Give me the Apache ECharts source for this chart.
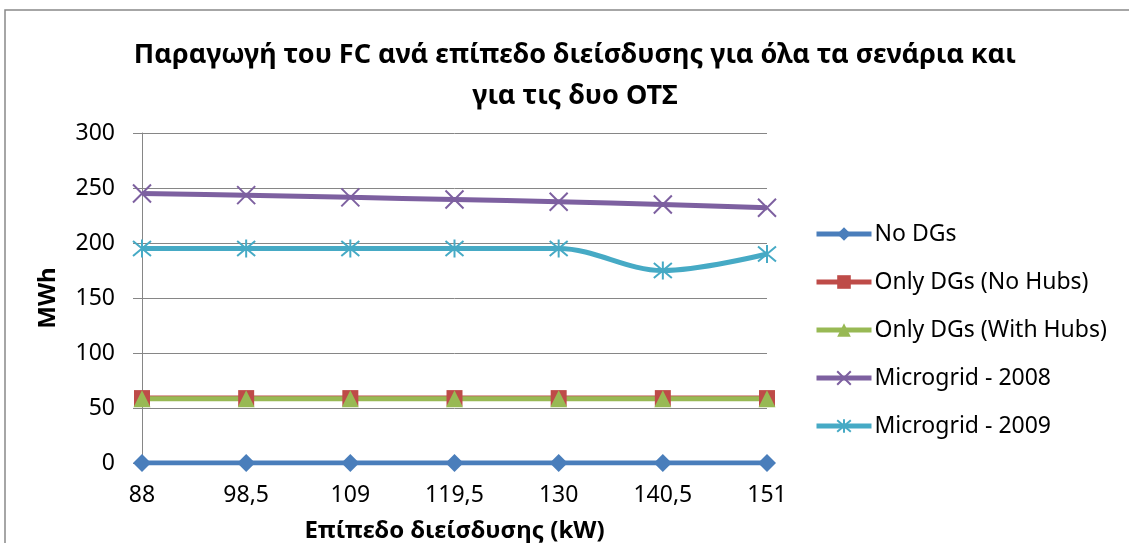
<!DOCTYPE html>
<html>
<head>
<meta charset="utf-8">
<script src="https://cdn.jsdelivr.net/npm/echarts@6/dist/echarts.min.js"></script>
<style>
html,body{margin:0;padding:0;background:#fff;}
#chart{width:1129px;height:543px;}
</style>
</head>
<body>
<div id="chart"></div>
<script>
const categories = ['88', '98,5', '109', '119,5', '130', '140,5', '151'];
const noDGs = [0, 0, 0, 0, 0, 0, 0];
const onlyDGsNoHubs = [59, 59, 59, 59, 59, 59, 59];
const onlyDGsWithHubs = [58.5, 58.5, 58.5, 58.5, 58.5, 58.5, 58.5];
const microgrid2008 = [245, 243.5, 241.5, 239.5, 237.5, 235, 232];
const microgrid2009 = [195, 195, 195, 195, 195, 175, 190];
const yTicks = [0, 50, 100, 150, 200, 250, 300];

const FONT = 'Noto Sans';
const chart = echarts.init(document.getElementById('chart'));
const xPath = 'path://M0,0L10,10M10,0L0,10';
const starPath = 'path://M0,0L10,10M10,0L0,10M5,-1L5,11';

function mk(name, data, color, symbol, size, strokeSym) {
  return {
    name: name,
    type: 'line',
    data: data,
    smooth: 0.35,
    symbol: symbol,
    symbolSize: size,
    showSymbol: true,
    lineStyle: {color: color, width: 5},
    itemStyle: strokeSym
      ? {color: color, borderColor: color, borderWidth: 2}
      : {color: color, borderWidth: 0},
    emphasis: {disabled: true},
    animation: false
  };
}

chart.setOption({
  backgroundColor: '#fff',
  animation: false,
  graphic: [{
    type: 'rect',
    shape: {x: 5, y: 10, width: 1200, height: 600},
    style: {fill: 'none', stroke: '#898989', lineWidth: 1.5},
    silent: true
  }],
  title: {
    text: 'Παραγωγή του FC ανά επίπεδο διείσδυσης για όλα τα σενάρια και\nγια τις δυο ΟΤΣ',
    left: 570,
    top: 30,
    textAlign: 'center',
    textStyle: {fontFamily: FONT, fontWeight: 'bold', fontSize: 27, lineHeight: 41, color: '#000'}
  },
  legend: {
    orient: 'vertical',
    left: 809,
    top: 217,
    itemWidth: 55,
    itemHeight: 17,
    itemGap: 24,
    lineStyle: {width: 5},
    textStyle: {fontFamily: FONT, fontSize: 23, lineHeight: 24, color: '#000', padding: [0, 0, 0, -2]},
    data: ['No DGs', 'Only DGs (No Hubs)', 'Only DGs (With Hubs)', 'Microgrid - 2008', 'Microgrid - 2009']
  },
  grid: {left: 142, right: 362, top: 133, bottom: 80, containLabel: false, outerBoundsMode: 'none'},
  xAxis: {
    type: 'category',
    data: categories,
    boundaryGap: false,
    name: 'Επίπεδο διείσδυσης (kW)',
    nameLocation: 'middle',
    nameGap: 56,
    nameTextStyle: {fontFamily: FONT, fontWeight: 'bold', fontSize: 24, color: '#000'},
    axisLine: {show: true, lineStyle: {color: '#868686', width: 1}},
    axisTick: {show: false},
    axisLabel: {fontFamily: FONT, fontSize: 23, color: '#000', margin: 21},
    splitLine: {show: false}
  },
  yAxis: {
    type: 'value',
    min: 0,
    max: 300,
    interval: 50,
    name: 'MWh',
    nameLocation: 'middle',
    nameRotate: 90,
    nameGap: 82,
    nameTextStyle: {fontFamily: FONT, fontWeight: 'bold', fontSize: 24, color: '#000'},
    axisLine: {show: true, lineStyle: {color: '#868686', width: 1}},
    axisTick: {show: true, inside: false, length: 9, lineStyle: {color: '#868686'}},
    axisLabel: {fontFamily: FONT, fontSize: 23, color: '#000', margin: 27,
      formatter: v => yTicks.includes(v) ? String(v) : ''},
    splitLine: {show: true, lineStyle: {color: '#868686', width: 1}}
  },
  series: [
    mk('No DGs', noDGs, '#4A7EBB', 'diamond', 18, false),
    mk('Only DGs (No Hubs)', onlyDGsNoHubs, '#BE4B48', 'rect', 16, false),
    mk('Only DGs (With Hubs)', onlyDGsWithHubs, '#98B954', 'triangle', 17, false),
    mk('Microgrid - 2008', microgrid2008, '#7D60A0', xPath, 18, true),
    mk('Microgrid - 2009', microgrid2009, '#46AAC5', starPath, 18, true)
  ]
});
</script>
</body>
</html>
